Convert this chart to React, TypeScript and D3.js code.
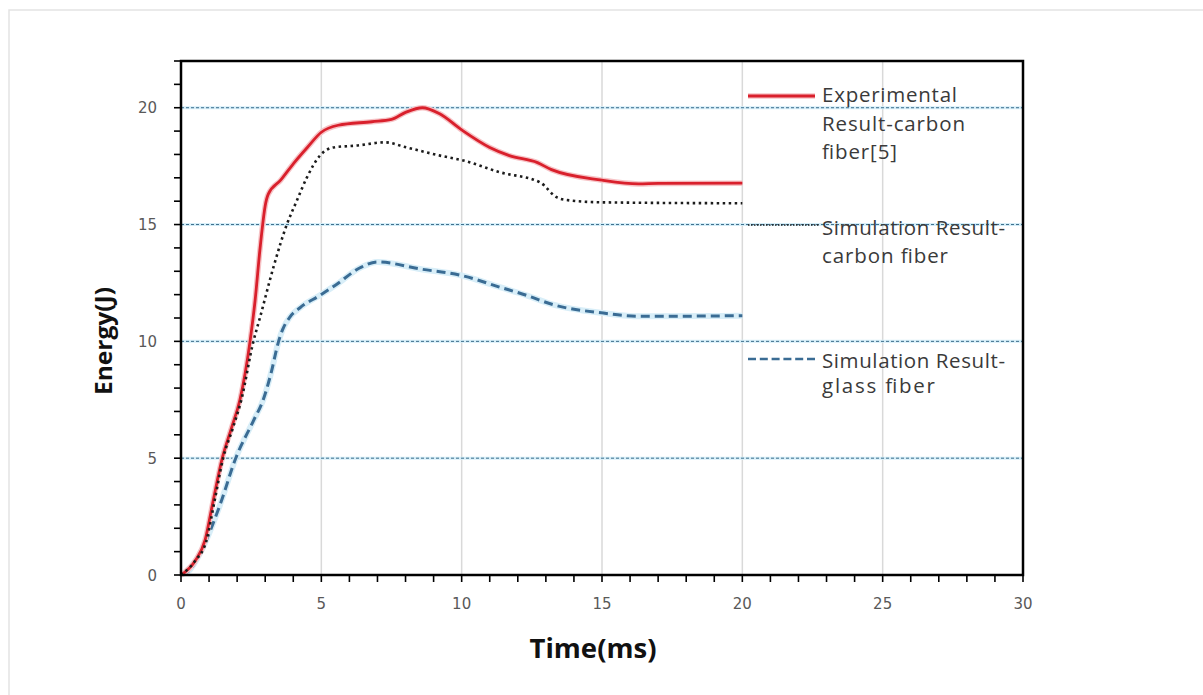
import React from "react";
import * as d3 from "d3";

// Time (ms) / energy (J) samples for each curve
const expTime = [0, 0.5, 0.86, 1.15, 1.47, 1.8, 2.1, 2.46, 2.64, 2.81, 2.91, 3.0, 3.11, 3.55, 4.0, 4.5, 5.0, 5.6, 6.8, 7.5, 8.0, 8.6, 9.2, 10.0, 11.0, 11.7, 12.7, 13.2, 15.0, 16.3, 17.0, 20.0];
const expEnergy = [0, 0.6, 1.5, 3.2, 5.0, 6.3, 7.5, 10.0, 11.75, 13.9, 15.0, 15.8, 16.3, 16.9, 17.6, 18.3, 18.95, 19.25, 19.4, 19.5, 19.8, 20.0, 19.75, 19.05, 18.3, 17.95, 17.65, 17.35, 16.9, 16.74, 16.76, 16.77];

const simCarbonTime = [0, 0.5, 0.9, 1.2, 1.5, 1.85, 2.15, 2.58, 2.81, 3.3, 3.77, 4.12, 4.48, 4.95, 5.43, 6.26, 7.27, 8.04, 9.23, 10.06, 11.36, 12.8, 13.38, 13.74, 15.05, 20.0];
const simCarbonEnergy = [0, 0.6, 1.45, 3.2, 5.0, 6.3, 7.5, 10.0, 11.0, 13.2, 15.0, 16.0, 17.0, 17.95, 18.3, 18.38, 18.52, 18.3, 17.95, 17.74, 17.24, 16.8, 16.17, 16.05, 15.95, 15.91];

const simGlassTime = [0, 0.3, 0.74, 1.39, 1.95, 2.58, 2.93, 3.2, 3.47, 3.62, 3.88, 4.24, 4.95, 5.5, 6.38, 7.0, 8.51, 10.0, 11.36, 12.31, 13.26, 15.05, 16.35, 20.0];
const simGlassEnergy = [0, 0.2, 1.07, 3.0, 5.0, 6.6, 7.5, 8.6, 9.97, 10.5, 11.04, 11.44, 11.97, 12.4, 13.15, 13.4, 13.1, 12.82, 12.32, 11.97, 11.57, 11.21, 11.07, 11.1];

const xTickLabels = [0, 5, 10, 15, 20, 25, 30];
const yTickLabels = [0, 5, 10, 15, 20];

const legendLines1 = ["Experimental", "Result-carbon", "fiber[5]"];
const legendLines2 = ["Simulation Result-", "carbon fiber"];
const legendLines3 = ["Simulation Result-", "glass fiber"];

const W = 1203;
const H = 695;

export default function App() {
  const x = d3.scaleLinear().domain([0, 30]).range([181, 1023]);
  const y = d3.scaleLinear().domain([0, 22]).range([575, 61]);

  const line = d3
    .line<[number, number]>()
    .x((d) => x(d[0]))
    .y((d) => y(d[1]))
    .curve(d3.curveMonotoneX);

  const zip = (a: number[], b: number[]) => a.map((v, i) => [v, b[i]] as [number, number]);
  const expPath = line(zip(expTime, expEnergy)) || "";
  const carbonPath = line(zip(simCarbonTime, simCarbonEnergy)) || "";
  const glassPath = line(zip(simGlassTime, simGlassEnergy)) || "";

  const minorX = d3.range(0, 31, 1);
  const minorY = d3.range(0, 23, 1);

  const tickFont = "'DejaVu Sans', Verdana, sans-serif";
  const legendFont = "'Open Sans', 'Noto Sans', sans-serif";

  const [x0, x1] = x.range();
  const [yb, yt] = y.range();

  return (
    <div style={{ position: "absolute", left: 0, top: 0 }}>
      <svg width={W} height={H} style={{ display: "block", background: "#fff" }}>
        {/* outer frame */}
        <rect x={9} y={10} width={W + 20} height={H + 20} fill="none" stroke="#e3e3e3" strokeWidth={1.5} />

        {/* vertical gridlines */}
        {xTickLabels.slice(1, -1).map((t) => (
          <line key={"vg" + t} x1={x(t)} x2={x(t)} y1={yt} y2={yb} stroke="#d9d9d9" strokeWidth={1.5} />
        ))}

        {/* horizontal dashed gridlines */}
        {yTickLabels.slice(1).map((t) => (
          <g key={"hg" + t}>
            <line x1={x0} x2={x1} y1={y(t)} y2={y(t)} stroke="#d6eef8" strokeWidth={3} />
            <line x1={x0} x2={x1} y1={y(t)} y2={y(t)} stroke="#3a6e8c" strokeWidth={1} strokeDasharray="3 2" />
          </g>
        ))}

        {/* data curves */}
        <path d={glassPath} fill="none" stroke="#d8eef8" strokeWidth={6} strokeLinejoin="round" />
        <path d={glassPath} fill="none" stroke="#3a6c94" strokeWidth={3} strokeDasharray="9 5" />
        <path d={expPath} fill="none" stroke="#f6c3c6" strokeWidth={5.5} strokeLinejoin="round" />
        <path d={expPath} fill="none" stroke="#d9202c" strokeWidth={2.8} strokeLinejoin="round" />
        <path d={carbonPath} fill="none" stroke="#1c1c1c" strokeWidth={2.6} strokeDasharray="2.5 3.5" />

        {/* plot frame */}
        <rect x={x0} y={yt} width={x1 - x0} height={yb - yt} fill="none" stroke="#000" strokeWidth={2.5} />

        {/* minor ticks */}
        {minorX.map((t) => (
          <line key={"xt" + t} x1={x(t)} x2={x(t)} y1={yb} y2={yb + 7} stroke="#000" strokeWidth={1.6} />
        ))}
        {minorY.map((t) => (
          <line key={"yt" + t} x1={x0 - 7} x2={x0} y1={y(t)} y2={y(t)} stroke="#000" strokeWidth={1.6} />
        ))}

        {/* tick labels */}
        {xTickLabels.map((t) => (
          <text key={"xl" + t} x={x(t)} y={609} textAnchor="middle" fontFamily={tickFont} fontSize={15} fill="#595959">
            {t}
          </text>
        ))}
        {yTickLabels.map((t) => (
          <text key={"yl" + t} x={157} y={y(t) + 5.5} textAnchor="end" fontFamily={tickFont} fontSize={15} fill="#595959">
            {t}
          </text>
        ))}

        {/* axis titles */}
        <text x={593} y={658} textAnchor="middle" fontFamily={legendFont} fontWeight="bold" fontSize={26} fill="#111" textLength={127} lengthAdjust="spacingAndGlyphs">
          Time(ms)
        </text>
        <text transform="translate(112,341) rotate(-90)" textAnchor="middle" fontFamily={legendFont} fontWeight="bold" fontSize={23} fill="#111" textLength={108} lengthAdjust="spacingAndGlyphs">
          Energy(J)
        </text>

        {/* legend */}
        <line x1={748} x2={815} y1={96} y2={96} stroke="#f6c3c6" strokeWidth={5.5} />
        <line x1={748} x2={815} y1={96} y2={96} stroke="#d9202c" strokeWidth={2.8} />
        {legendLines1.map((s, i) => (
          <text key={"l1" + i} x={822} y={102 + i * 28.6} fontFamily={legendFont} fontSize={20.5} fill="#3a3a3a" textLength={[135, 143, 75][i]} lengthAdjust="spacing">
            {s}
          </text>
        ))}
        <line x1={748} x2={819} y1={225} y2={225} stroke="#1c1c1c" strokeWidth={1.6} strokeDasharray="1.5 1.5" />
        {legendLines2.map((s, i) => (
          <text key={"l2" + i} x={822} y={235 + i * 27.5} fontFamily={legendFont} fontSize={20.5} fill="#3a3a3a" textLength={[183, 126][i]} lengthAdjust="spacing">
            {s}
          </text>
        ))}
        <line x1={748} x2={818} y1={359} y2={359} stroke="#3a6c94" strokeWidth={2.6} strokeDasharray="8 3.8" />
        {legendLines3.map((s, i) => (
          <text key={"l3" + i} x={822} y={367.5 + i * 25.5} fontFamily={legendFont} fontSize={20.5} fill="#3a3a3a" textLength={[183, 113][i]} lengthAdjust="spacing">
            {s}
          </text>
        ))}
      </svg>
    </div>
  );
}
